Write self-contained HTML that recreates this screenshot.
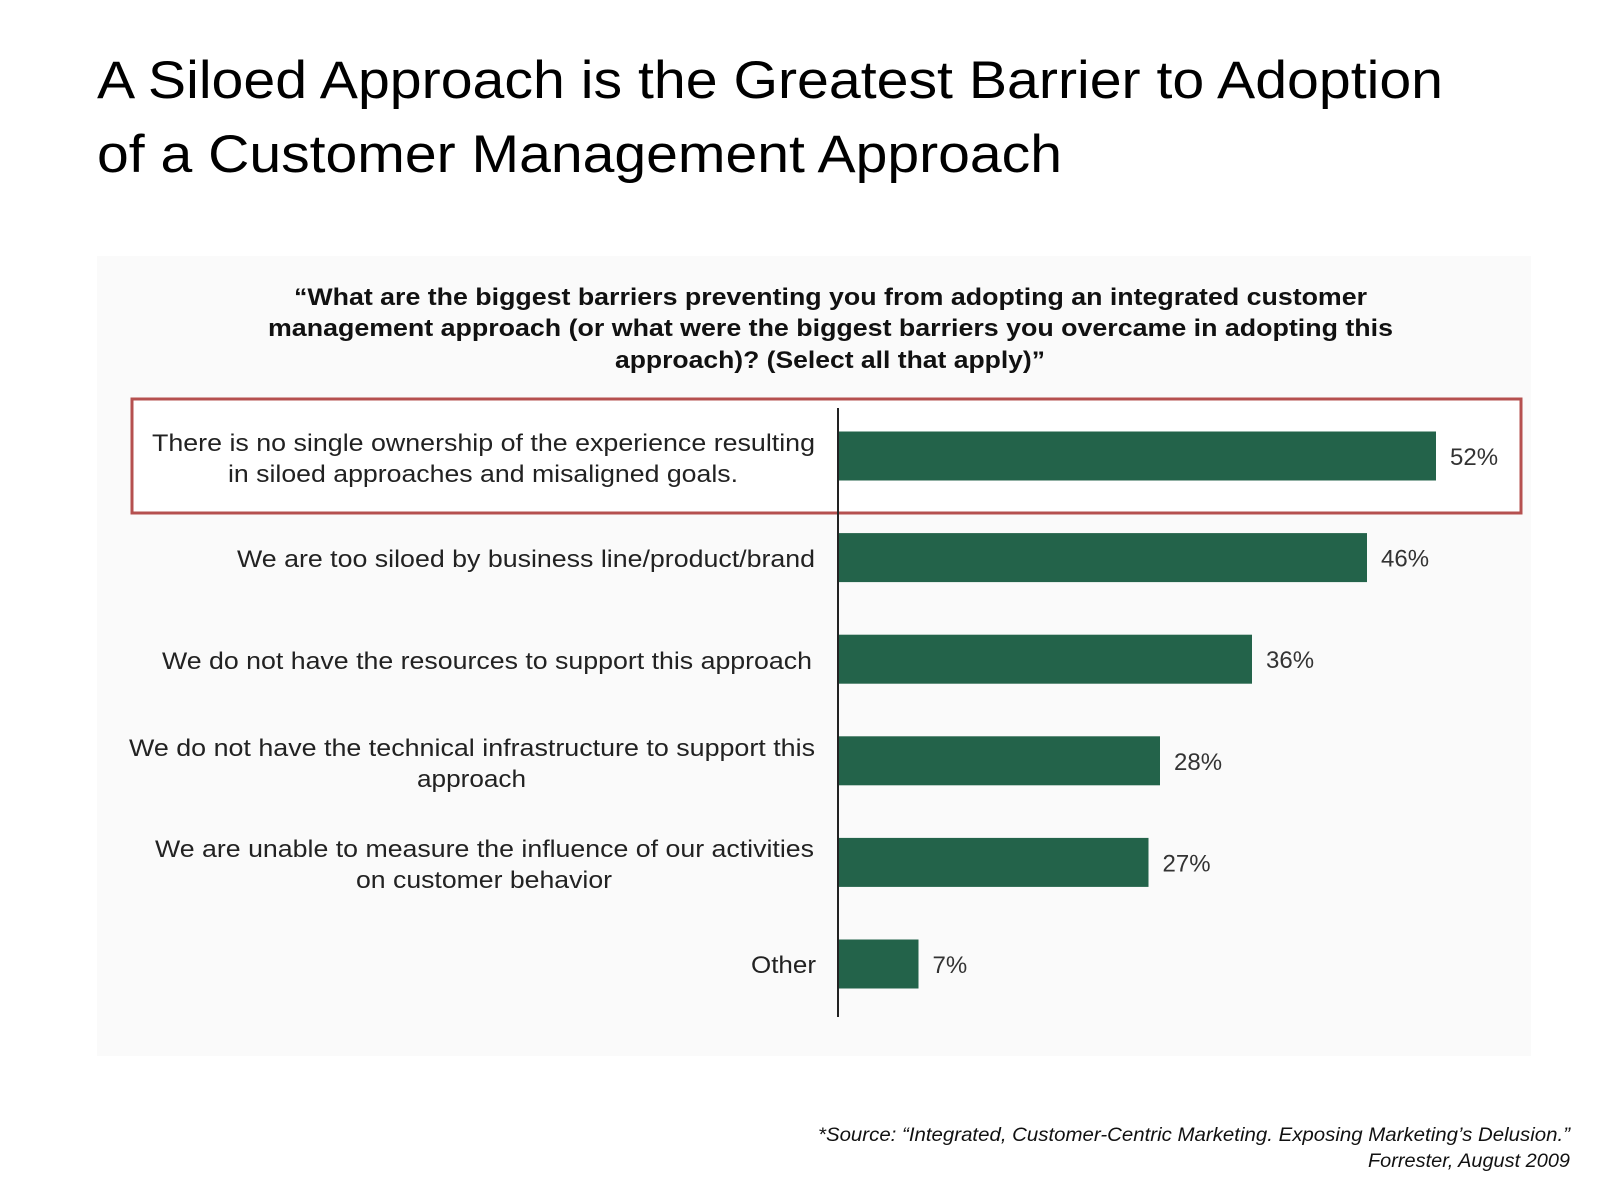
<!DOCTYPE html>
<html><head><meta charset="utf-8"><style>
html,body{margin:0;padding:0;background:#fff;}
svg{display:block;}
</style></head><body>
<svg width="1600" height="1200" viewBox="0 0 1600 1200" xmlns="http://www.w3.org/2000/svg">
<g font-family="'Liberation Sans', sans-serif">
<text x="97" y="98" font-size="53" fill="#000" textLength="1346" lengthAdjust="spacingAndGlyphs">A Siloed Approach is the Greatest Barrier to Adoption</text>
<text x="97" y="172" font-size="53" fill="#000" textLength="965" lengthAdjust="spacingAndGlyphs">of a Customer Management Approach</text>
</g>
<rect x="97" y="256" width="1434" height="800" fill="#fafafa"/>
<g font-family="'Liberation Sans', sans-serif" font-weight="bold" font-size="24" fill="#111">
<text x="294" y="305" textLength="1073" lengthAdjust="spacingAndGlyphs">“What are the biggest barriers preventing you from adopting an integrated customer</text>
<text x="268" y="336" textLength="1125" lengthAdjust="spacingAndGlyphs">management approach (or what were the biggest barriers you overcame in adopting this</text>
<text x="615" y="368" textLength="430" lengthAdjust="spacingAndGlyphs">approach)? (Select all that apply)”</text>
</g>
<rect x="132" y="399" width="1389" height="114" fill="#fff" stroke="#b5504f" stroke-width="3"/>
<g id="bars"></g>
<line x1="838" y1="408" x2="838" y2="1017" stroke="#222" stroke-width="2"/>
<g font-family="'Liberation Sans', sans-serif" font-size="24" fill="#222">
<text x="152" y="451" textLength="663" lengthAdjust="spacingAndGlyphs">There is no single ownership of the experience resulting</text>
<text x="228" y="482" textLength="510" lengthAdjust="spacingAndGlyphs">in siloed approaches and misaligned goals.</text>
<text x="237" y="567" textLength="578" lengthAdjust="spacingAndGlyphs">We are too siloed by business line/product/brand</text>
<text x="162" y="669" textLength="650" lengthAdjust="spacingAndGlyphs">We do not have the resources to support this approach</text>
<text x="129" y="756" textLength="686" lengthAdjust="spacingAndGlyphs">We do not have the technical infrastructure to support this</text>
<text x="417" y="787" textLength="109" lengthAdjust="spacingAndGlyphs">approach</text>
<text x="155" y="857" textLength="659" lengthAdjust="spacingAndGlyphs">We are unable to measure the influence of our activities</text>
<text x="356" y="888" textLength="256" lengthAdjust="spacingAndGlyphs">on customer behavior</text>
<text x="751" y="973" textLength="65" lengthAdjust="spacingAndGlyphs">Other</text>
</g>
<g font-family="'Liberation Sans', sans-serif" font-style="italic" font-size="19" fill="#111" text-anchor="end">
<text x="1570" y="1141" textLength="752" lengthAdjust="spacingAndGlyphs">*Source: “Integrated, Customer-Centric Marketing. Exposing Marketing’s Delusion.”</text>
<text x="1570" y="1167" textLength="202" lengthAdjust="spacingAndGlyphs">Forrester, August 2009</text>
</g>
</svg>
<script>
const categories = ["No single ownership","Siloed by business line","No resources","No technical infrastructure","Unable to measure influence","Other"];
const values = [52, 46, 36, 28, 27, 7];
const valueLabels = ["52%","46%","36%","28%","27%","7%"];
const NS = "http://www.w3.org/2000/svg";
const x0 = 838, pxPer = 11.5;
function xScale(v){ return x0 + v * pxPer; }
function yCenter(i){ return 456 + i * 101.6; }
const g = document.getElementById('bars');
values.forEach(function(v, i){
  const r = document.createElementNS(NS, 'rect');
  r.setAttribute('x', x0);
  r.setAttribute('y', yCenter(i) - 24.5);
  r.setAttribute('width', xScale(v) - x0);
  r.setAttribute('height', 49);
  r.setAttribute('fill', '#23634a');
  
  
  g.appendChild(r);
  const t = document.createElementNS(NS, 'text');
  t.setAttribute('x', xScale(v) + 14);
  t.setAttribute('y', yCenter(i) + 9);
  t.setAttribute('font-family', "'Liberation Sans', sans-serif");
  t.setAttribute('font-size', '24');
  t.setAttribute('fill', '#333');
  t.textContent = valueLabels[i];
  
  
  g.appendChild(t);
});
</script>
</body></html>
